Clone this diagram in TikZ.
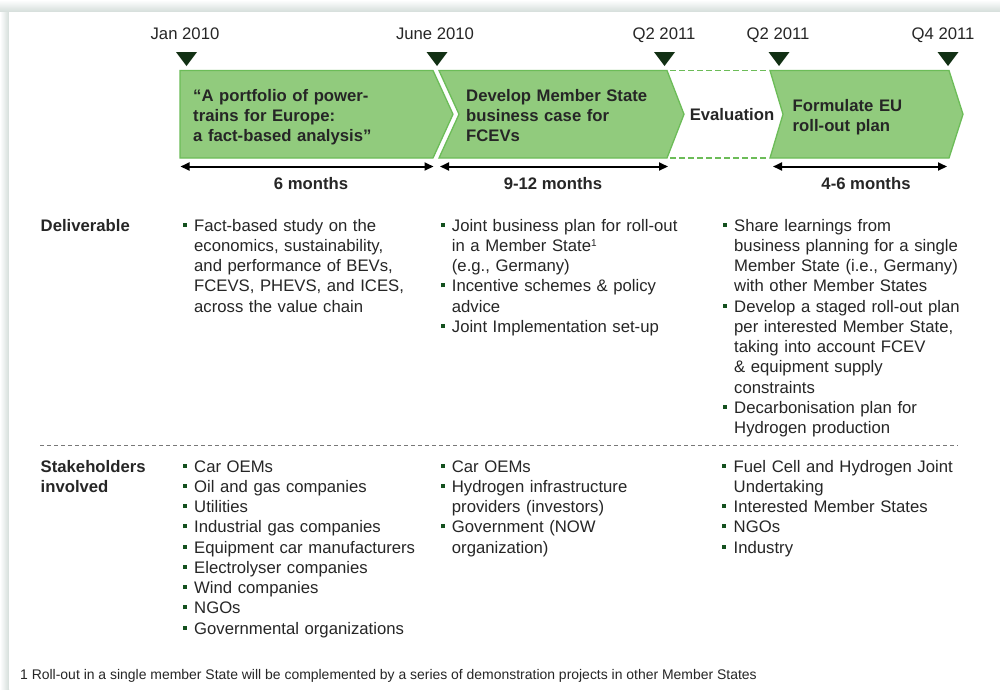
\documentclass[tikz,border=0pt]{standalone}
\usepackage{fontspec}
\setmainfont{Liberation Sans}
\usetikzlibrary{arrows.meta}
\definecolor{chevfill}{RGB}{145,203,125}
\definecolor{chevline}{RGB}{108,188,88}
\definecolor{markc}{RGB}{18,48,20}
\definecolor{txt}{RGB}{38,38,38}
\definecolor{shadowc}{RGB}{212,221,218}
\definecolor{bulletc}{RGB}{20,80,30}
\definecolor{sepc}{RGB}{120,120,120}
\newcommand{\bul}{\leavevmode\llap{\textcolor{bulletc}{\rule[4.3pt]{4pt}{4pt}}\hspace{7.4pt}}}
\newcommand{\fnmark}{\raisebox{5pt}{\fontsize{10}{10}\selectfont 1}}
\tikzset{
  datelbl/.style={font=\fontsize{16.7}{20}\selectfont, text=txt, anchor=base, inner sep=0},
  durlbl/.style={font=\bfseries\fontsize{16.7}{20}\selectfont, text=txt, anchor=base, inner sep=0},
  chevtxt/.style={font=\bfseries\fontsize{16.7}{20}\selectfont, text=txt, anchor=base west, align=left, text width=260pt, inner sep=0},
  body/.style={font=\fontsize{16.7}{20.25}\selectfont, text=txt, anchor=base west, align=left, text width=300pt, inner sep=0},
  rowlbl/.style={font=\bfseries\fontsize{16.7}{20.25}\selectfont, text=txt, anchor=base west, align=left, text width=130pt, inner sep=0},
  chevron/.style={fill=chevfill, draw=chevline, line width=1.3pt, line join=miter},
  evalline/.style={draw=chevline, line width=1.3pt, dash pattern=on 6pt off 3pt},
  marker/.style={fill=markc},
  durarrow/.style={line width=2pt, {Triangle[length=9pt,width=8pt]}-{Triangle[length=9pt,width=8pt]}},
  sepline/.style={draw=sepc, line width=0.9pt, dash pattern=on 4pt off 3pt},
}
\begin{document}
\begin{tikzpicture}[x=1pt,y=-1pt]
\useasboundingbox (0,0) rectangle (1000,689);
% card with shadow
\fill[white] (0,0) rectangle (1000,689);
\shade[top color=white, bottom color=shadowc] (0,0) rectangle (1000,12);
\shade[left color=white, right color=shadowc] (0,12) rectangle (9,689);
\fill[white] (9,12) rectangle (1000,689);

% date labels
\node[datelbl] (d1) at (185,39) {Jan 2010};
\node[datelbl] (d2) at (435,39) {June 2010};
\node[datelbl] (d3) at (664,39) {Q2 2011};
\node[datelbl] (d4) at (778,39) {Q2 2011};
\node[datelbl] (d5) at (943,39) {Q4 2011};

% markers
\foreach \mx in {186.5,437,664.5,779,948}{
  \fill[marker] (\mx-10.5,52) -- (\mx+10.5,52) -- (\mx,66) -- cycle;
}

% chevrons
\draw[chevron] (180,70.5) -- (433,70.5) -- (453,114.25) -- (433,158) -- (180,158) -- cycle;
\draw[chevron] (439,70.5) -- (667,70.5) -- (684,114.25) -- (667,158) -- (439,158) -- (459,114.25) -- cycle;
\draw[evalline] (670,70.5) -- (769,70.5);
\draw[evalline] (670,158) -- (769,158);
\draw[chevron] (770,70.5) -- (949,70.5) -- (963,114.25) -- (949,158) -- (770,158) -- (783,114.25) -- cycle;

\node[chevtxt] (c1) at (193,101) {``A portfolio of power-\\trains for Europe:\\a fact-based analysis''};
\node[chevtxt] (c2) at (466,101) {Develop Member State\\business case for\\FCEVs};
\node[durlbl] (ev) at (732,120.5) {Evaluation};
\node[chevtxt] (c3) at (792.5,111) {Formulate EU\\roll-out plan};

% duration arrows
\coordinate (a1l) at (180.5,166.5); \coordinate (a1r) at (433.5,166.5);
\coordinate (a2l) at (440,166.5); \coordinate (a2r) at (668,166.5);
\coordinate (a3l) at (773,166.5); \coordinate (a3r) at (947,166.5);
\draw[durarrow] (a1l) -- (a1r);
\draw[durarrow] (a2l) -- (a2r);
\draw[durarrow] (a3l) -- (a3r);
\node[durlbl] (m1) at (311,189) {6 months};
\node[durlbl] (m2) at (553,189) {9-12 months};
\node[durlbl] (m3) at (866,189) {4-6 months};

% deliverables
\node[rowlbl] (deliv) at (40.5,231) {Deliverable};
\node[body] (dl1) at (194,231) {\bul Fact-based study on the\\economics, sustainability,\\and performance of BEVs,\\FCEVS, PHEVS, and ICES,\\across the value chain};
\node[body] (dl2) at (451.7,231) {\bul Joint business plan for roll-out\\in a Member State\fnmark\\(e.g., Germany)\\\bul Incentive schemes \& policy\\advice\\\bul Joint Implementation set-up};
\node[body] (dl3) at (734,231) {\bul Share learnings from\\business planning for a single\\Member State (i.e., Germany)\\with other Member States\\\bul Develop a staged roll-out plan\\per interested Member State,\\taking into account FCEV\\\& equipment supply\\constraints\\\bul Decarbonisation plan for\\Hydrogen production};

% separator
\coordinate (s1) at (40,445); \coordinate (s2) at (958,445);
\draw[sepline] (s1) -- (s2);

% stakeholders
\node[rowlbl] (stake) at (40.5,472) {Stakeholders\\involved};
\node[body] (st1) at (194,472) {\bul Car OEMs\\\bul Oil and gas companies\\\bul Utilities\\\bul Industrial gas companies\\\bul Equipment car manufacturers\\\bul Electrolyser companies\\\bul Wind companies\\\bul NGOs\\\bul Governmental organizations};
\node[body] (st2) at (451.7,472) {\bul Car OEMs\\\bul Hydrogen infrastructure\\providers (investors)\\\bul Government (NOW\\organization)};
\node[body] (st3) at (733.5,472) {\bul Fuel Cell and Hydrogen Joint\\Undertaking\\\bul Interested Member States\\\bul NGOs\\\bul Industry};

% footnote
\node[font=\fontsize{13.95}{16}\selectfont, text=txt, anchor=base west, inner sep=0] (fn) at (20,679) {1 Roll-out in a single member State will be complemented by a series of demonstration projects in other Member States};
\end{tikzpicture}
\end{document}
